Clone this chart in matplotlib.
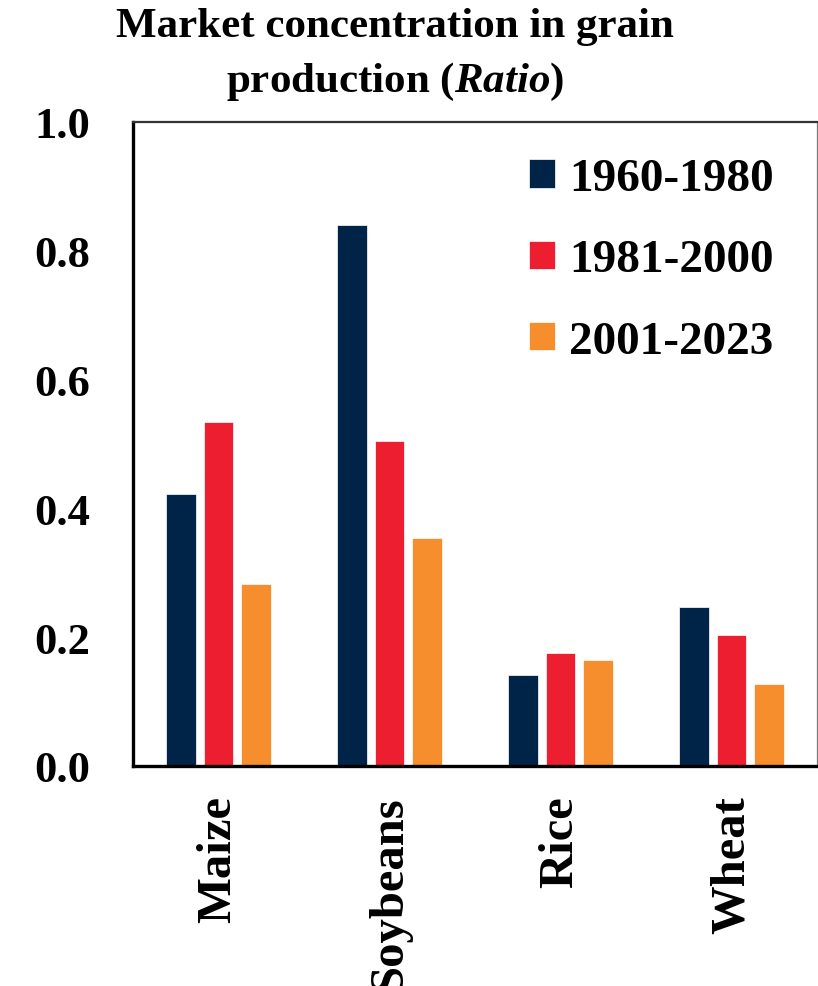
import matplotlib
matplotlib.use("Agg")
import matplotlib.pyplot as plt
import numpy as np

# Grain categories and period values (concentration ratio)
crops = ["Maize", "Soybeans", "Rice", "Wheat"]
periods = ["1960-1980", "1981-2000", "2001-2023"]
v_1960_1980 = [0.423, 0.840, 0.141, 0.247]
v_1981_2000 = [0.534, 0.504, 0.175, 0.204]
v_2001_2023 = [0.283, 0.354, 0.164, 0.127]
y_ticks = [0.0, 0.2, 0.4, 0.6, 0.8, 1.0]

colors = ["#002348", "#EC1E30", "#F78E2D"]

plt.rcParams["font.family"] = ["Liberation Serif", "DejaVu Serif"]
plt.rcParams["font.weight"] = "bold"
plt.rcParams["mathtext.fontset"] = "custom"
plt.rcParams["mathtext.it"] = "Liberation Serif:italic:bold"
plt.rcParams["mathtext.rm"] = "Liberation Serif:bold"

fig = plt.figure(figsize=(8.18, 9.87), dpi=100)
ax = fig.add_axes([133 / 818, 220 / 987, 684 / 818, 644 / 987])

x = np.arange(len(crops))
width = 0.175
offset = 0.222
series = [v_1960_1980, v_1981_2000, v_2001_2023]
for i, (vals, lab, col) in enumerate(zip(series, periods, colors)):
    ax.bar(x + (i - 1) * offset, vals, width, color=col, label=lab,
           edgecolor="#ffffff", linewidth=0.5)

ax.set_xlim(-0.5, 3.5)
ax.set_ylim(0, 1.0)
ax.set_yticks(y_ticks)
ax.set_yticklabels([f"{t:.1f}" for t in y_ticks], fontsize=32, fontweight="bold")
ax.set_xticks(x)
ax.set_xticklabels(crops, rotation=90, fontsize=35, fontweight="bold", va="top")
ax.tick_params(axis="both", length=0)
ax.tick_params(axis="y", pad=31)
ax.tick_params(axis="x", pad=21)

ax.spines["left"].set_linewidth(2.4)
ax.spines["bottom"].set_linewidth(2.4)
ax.spines["left"].set_color("black")
ax.spines["bottom"].set_color("black")
ax.spines["top"].set_linewidth(1.6)
ax.spines["top"].set_color("#333333")
ax.spines["right"].set_linewidth(0.9)
ax.spines["right"].set_color("#777777")

leg = ax.legend(loc="upper right", bbox_to_anchor=(0.985, 0.995), frameon=False,
                prop={"size": 34, "weight": "bold"},
                handlelength=0.55, handleheight=0.55, handletextpad=0.3,
                labelspacing=0.83, borderaxespad=0.3)

fig.text(395 / 818, 1 - 8 / 987, "Market concentration in grain",
         ha="center", va="top", fontsize=31, fontweight="bold")
fig.text(395 / 818, 1 - 61 / 987,
         r"production ($\mathit{Ratio}$)",
         ha="center", va="top", fontsize=31, fontweight="bold")

fig.savefig("out.png", dpi=100)
